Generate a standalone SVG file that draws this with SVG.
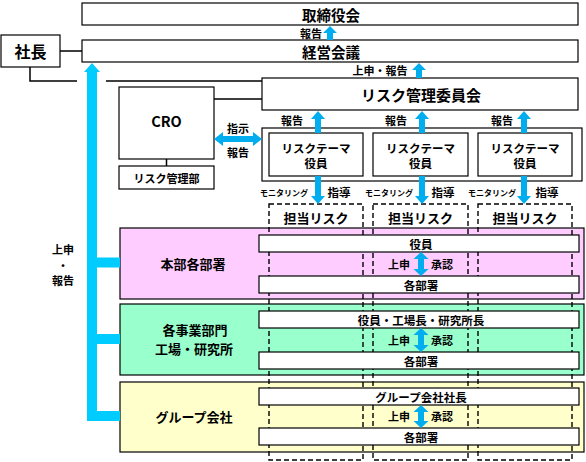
<svg xmlns="http://www.w3.org/2000/svg" width="586" height="462" viewBox="0 0 586 462">
<style>
.b{fill:#fff;stroke:#000;stroke-width:1.2}
.t{font-family:"Noto Sans CJK JP","Noto Sans",sans-serif;font-weight:bold;fill:#000;text-anchor:middle;dominant-baseline:central}
.ln{fill:none;stroke:#000;stroke-width:1.5}
.dash{fill:none;stroke:#000;stroke-width:1.4;stroke-dasharray:5 3}
.ar{fill:#00AEEF}
.big{fill:#00CCFF}
</style>
<rect width="586" height="462" fill="#fff"/>
<!-- regions -->
<g id="honbu"><rect x="120" y="228" width="464" height="71" fill="#FFCCFF" stroke="#000" stroke-width="1.2"/><text class="t" x="193" y="263" font-size="13">本部各部署</text></g>
<g id="jigyo"><rect x="120" y="304" width="464" height="71" fill="#99FFCC" stroke="#000" stroke-width="1.2"/><text class="t" x="195" y="329" font-size="13">各事業部門</text><text class="t" x="194" y="348.5" font-size="13">工場・研究所</text></g>
<g id="group"><rect x="120" y="382" width="464" height="70" fill="#FFFFCC" stroke="#000" stroke-width="1.2"/><text class="t" x="194" y="416" font-size="13">グループ会社</text></g>
<!-- dashed risk boxes -->
<g id="tanto1"><rect class="dash" x="269" y="204" width="94" height="256"/><text class="t" x="316" y="217" font-size="13">担当リスク</text></g>
<g id="tanto2"><rect class="dash" x="373" y="204" width="95" height="256"/><text class="t" x="420.5" y="217" font-size="13">担当リスク</text></g>
<g id="tanto3"><rect class="dash" x="478" y="204" width="94" height="256"/><text class="t" x="525" y="217" font-size="13">担当リスク</text></g>
<!-- bars -->
<g id="bar1"><rect class="b" x="259" y="235" width="320" height="17"/><text class="t" x="421" y="243.5" font-size="11.5">役員</text></g>
<g id="bar2"><rect class="b" x="259" y="276" width="320" height="17"/><text class="t" x="421" y="284.5" font-size="11.5">各部署</text></g>
<g id="bar3"><rect class="b" x="259" y="311" width="320" height="17"/><text class="t" x="421" y="319.5" font-size="11.5">役員・工場長・研究所長</text></g>
<g id="bar4"><rect class="b" x="259" y="352" width="320" height="17"/><text class="t" x="421" y="360.5" font-size="11.5">各部署</text></g>
<g id="bar5"><rect class="b" x="259" y="388" width="320" height="17"/><text class="t" x="421" y="396.5" font-size="11.5">グループ会社社長</text></g>
<g id="bar6"><rect class="b" x="259" y="428" width="320" height="17"/><text class="t" x="421" y="436.5" font-size="11.5">各部署</text></g>
<!-- top boxes -->
<g id="torishimari"><rect class="b" x="82" y="3" width="496" height="22"/><text class="t" x="331" y="14" font-size="14.5">取締役会</text></g>
<g id="keiei"><rect class="b" x="82" y="40" width="496" height="22"/><text class="t" x="331" y="51" font-size="14.5">経営会議</text></g>
<g id="shacho"><rect class="b" x="1" y="35" width="59" height="32"/><text class="t" x="30.5" y="51" font-size="16">社長</text></g>
<g id="iinkai"><rect class="b" x="262" y="78" width="316" height="32"/><text class="t" x="421" y="94" font-size="15">リスク管理委員会</text></g>
<g id="cro"><rect class="b" x="119" y="87" width="95" height="72"/><text class="t" x="166.5" y="120" font-size="14.5">CRO</text></g>
<g id="riskbu"><rect class="b" x="119" y="166" width="95" height="23"/><text class="t" x="166.5" y="177.5" font-size="11">リスク管理部</text></g>
<g id="theme"><rect class="b" x="262" y="128" width="320" height="53"/>
<rect class="b" x="269" y="133" width="94" height="43"/><text class="t" x="316" y="147.5" font-size="11.5">リスクテーマ</text><text class="t" x="316" y="163" font-size="11.5">役員</text>
<rect class="b" x="373" y="133" width="95" height="43"/><text class="t" x="420.5" y="147.5" font-size="11.5">リスクテーマ</text><text class="t" x="420.5" y="163" font-size="11.5">役員</text>
<rect class="b" x="478" y="133" width="94" height="43"/><text class="t" x="525" y="147.5" font-size="11.5">リスクテーマ</text><text class="t" x="525" y="163" font-size="11.5">役員</text>
</g>
<!-- connectors -->
<g id="connectors">
<path class="ln" d="M60,51 H82 M30,67 V81 H77 M106,81 H262 M214,99 H262 M166.5,159 V166"/>
<path class="big" d="M92,63 L100,72 L97,72 L97,257.5 L120,257.5 L120,267.5 L97,267.5 L97,334 L120,334 L120,344 L97,344 L97,411 L120,411 L120,421 L87,421 L87,72 L84,72 Z"/>
<path class="ar" d="M330,26 L337,33 L333,33 L333,40 L327,40 L327,33 L323,33 Z"/>
<path class="ar" d="M419,63 L426,70 L422,70 L422,78 L416,78 L416,70 L412,70 Z"/>
<path class="ar" d="M318,111 L325,119 L321,119 L321,133 L315,133 L315,119 L311,119 Z"/>
<path class="ar" d="M422,111 L429,119 L425,119 L425,133 L419,133 L419,119 L415,119 Z"/>
<path class="ar" d="M524,111 L531,119 L527,119 L527,133 L521,133 L521,119 L517,119 Z"/>
<path class="ar" d="M315,176 L321,176 L321,196 L325,196 L318,204 L311,196 L315,196 Z"/>
<path class="ar" d="M419,176 L425,176 L425,196 L429,196 L422,204 L415,196 L419,196 Z"/>
<path class="ar" d="M521,176 L527,176 L527,196 L531,196 L524,204 L517,196 L521,196 Z"/>
<path class="ar" d="M214,139 L223,132 L223,136 L253,136 L253,132 L262,139 L253,146 L253,142 L223,142 L223,146 Z"/>
<path class="ar" d="M421,252 L428.5,259 L424,259 L424,269 L428.5,269 L421,276 L413.5,269 L418,269 L418,259 L413.5,259 Z"/>
<path class="ar" d="M421,328 L428.5,335 L424,335 L424,345 L428.5,345 L421,352 L413.5,345 L418,345 L418,335 L413.5,335 Z"/>
<path class="ar" d="M421,405 L428.5,412 L424,412 L424,421 L428.5,421 L421,428 L413.5,421 L418,421 L418,412 L413.5,412 Z"/>
<text class="t" x="311" y="33" font-size="11">報告</text>
<text class="t" x="380" y="70" font-size="11">上申・報告</text>
<text class="t" x="292" y="120" font-size="11">報告</text>
<text class="t" x="396" y="120" font-size="11">報告</text>
<text class="t" x="502" y="120" font-size="11">報告</text>
<text class="t" x="238" y="128" font-size="11">指示</text>
<text class="t" x="238" y="152" font-size="11">報告</text>
<text class="t" x="284" y="192" font-size="8">モニタリング</text>
<text class="t" x="389" y="192" font-size="8">モニタリング</text>
<text class="t" x="492" y="192" font-size="8">モニタリング</text>
<text class="t" x="339" y="192" font-size="11.5">指導</text>
<text class="t" x="443" y="192" font-size="11.5">指導</text>
<text class="t" x="547" y="192" font-size="11.5">指導</text>
<text class="t" x="399" y="264" font-size="11">上申</text>
<text class="t" x="442" y="264" font-size="11">承認</text>
<text class="t" x="399" y="340" font-size="11">上申</text>
<text class="t" x="442" y="340" font-size="11">承認</text>
<text class="t" x="399" y="416" font-size="11">上申</text>
<text class="t" x="442" y="416" font-size="11">承認</text>
<text class="t" x="63" y="249" font-size="11">上申</text>
<text class="t" x="63" y="264.5" font-size="11">・</text>
<text class="t" x="63" y="280" font-size="11">報告</text>
</g>
</svg>
